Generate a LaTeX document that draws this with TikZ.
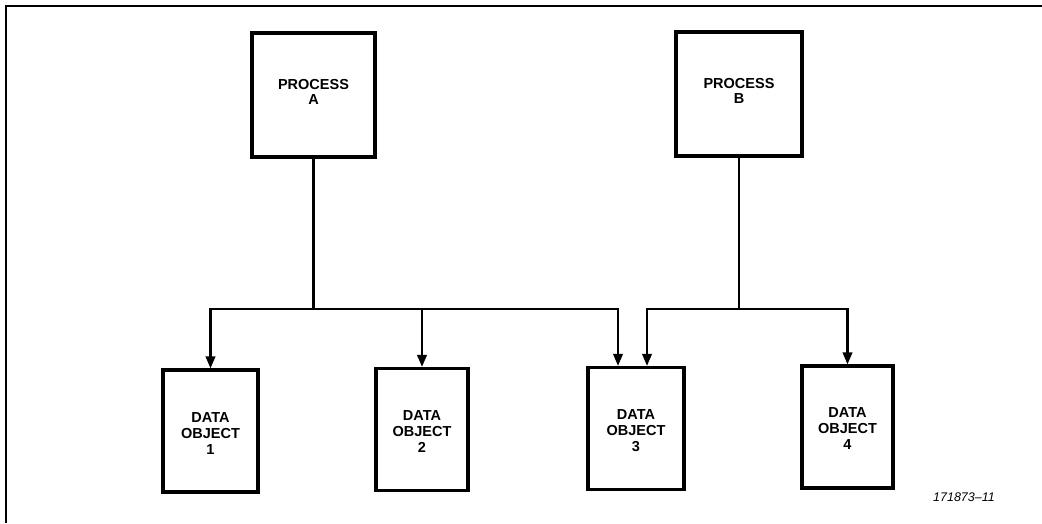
\documentclass[tikz,border=0pt]{standalone}
\usepackage{fontspec}
\setmainfont{Liberation Sans}
\usetikzlibrary{arrows.meta}
\begin{document}
\begin{tikzpicture}[x=1pt,y=-1pt,
  procbox/.style={draw,line width=3.2pt,minimum width=123pt,minimum height=124pt,
    align=center,inner sep=0pt,font=\fontsize{14.5}{15.5}\selectfont\bfseries},
  databox/.style={draw,line width=3.2pt,minimum width=93pt,minimum height=122pt,
    align=center,inner sep=0pt,font=\fontsize{14.5}{16}\selectfont\bfseries},
  wire/.style={line width=2.2pt},
  feed/.style={wire,-{Triangle[length=12pt,width=9.5pt]}},
  frameline/.style={line width=2.4pt}]
  \useasboundingbox (0,0) rectangle (1042,523);
  % outer frame (top and left edges)
  \draw[frameline] (1042,6) -- (6,6) -- (6,523);

  % processes
  \node[procbox] (pa) at (313.5,95) {};
  \node[procbox,minimum width=126pt] (pb) at (739,94) {};
  \node[font=\fontsize{14.5}{15.5}\selectfont\bfseries,align=center] (ta) at (313.5,92) {PROCESS\\A};
  \node[font=\fontsize{14.5}{15.5}\selectfont\bfseries,align=center] (tb) at (739,91) {PROCESS\\B};

  % data objects
  \node[databox,minimum width=95pt] (d1) at (210.5,431) {};
  \node[databox,minimum width=92pt] (d2) at (422,429.5) {};
  \node[databox,minimum width=96pt] (d3) at (636,428.5) {};
  \node[databox,minimum width=91pt] (d4) at (847.5,427) {};
  \tikzset{dlabel/.style={font=\fontsize{14.5}{16}\selectfont\bfseries,align=center}}
  \node[dlabel] (t1) at (210.5,434) {DATA\\OBJECT\\1};
  \node[dlabel] (t2) at (422,432) {DATA\\OBJECT\\2};
  \node[dlabel] (t3) at (636,431) {DATA\\OBJECT\\3};
  \node[dlabel] (t4) at (847.5,429) {DATA\\OBJECT\\4};

  % bus junctions
  \coordinate (ja) at (pa.south |- 0,309);
  \coordinate (jb) at (pb.south |- 0,309);
  \coordinate (d3a) at ([xshift=-18pt]d3.north);
  \coordinate (d3b) at ([xshift=11pt]d3.north);

  % process A access paths
  \draw[wire] (pa.south) -- (ja);
  \draw[feed] (ja) -| (d1.north);
  \draw[feed] (ja) -| (d2.north);
  \draw[feed] (ja) -| (d3a);

  % process B access paths
  \draw[wire] (pb.south) -- (jb);
  \draw[feed] (jb) -| (d3b);
  \draw[feed] (jb) -| (d4.north);

  \node[font=\fontsize{12.5}{14}\selectfont\itshape] (fig) at (964,497) {171873–11};
\end{tikzpicture}
\end{document}
